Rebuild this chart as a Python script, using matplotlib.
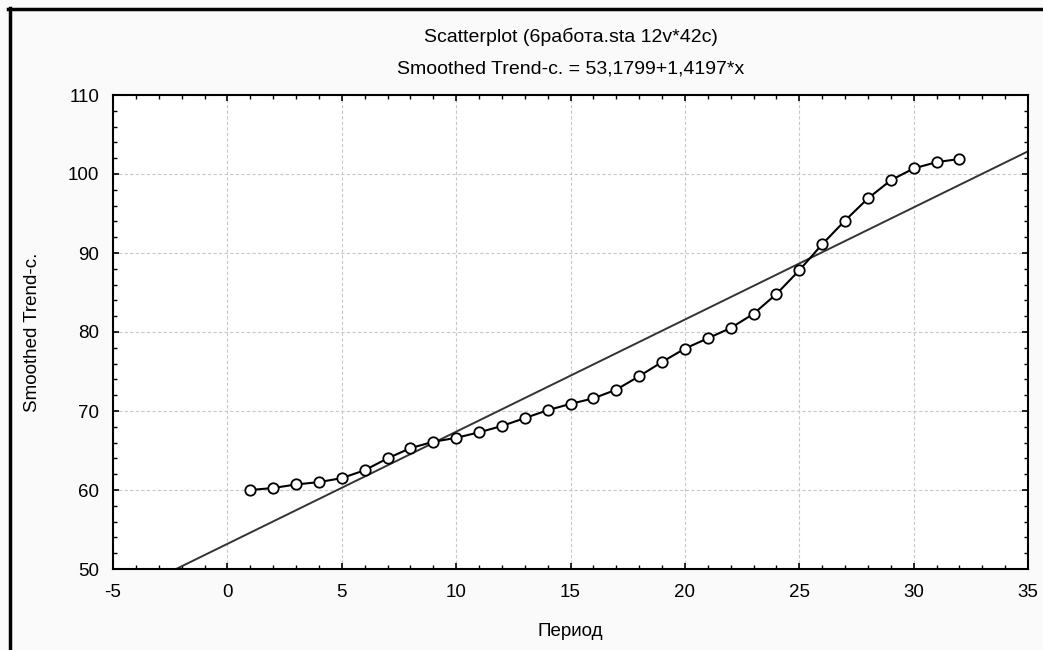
import matplotlib
matplotlib.use("Agg")
import matplotlib.pyplot as plt
from matplotlib.ticker import MultipleLocator
from matplotlib.lines import Line2D
import numpy as np

plt.rcParams['font.family'] = ['Liberation Sans', 'DejaVu Sans']
plt.rcParams['axes.unicode_minus'] = False

# Smoothed trend values by period
period = [1, 2, 3, 4, 5, 6, 7, 8, 9, 10, 11, 12, 13, 14, 15, 16,
          17, 18, 19, 20, 21, 22, 23, 24, 25, 26, 27, 28, 29, 30, 31, 32]
trend = [60.0, 60.25, 60.7, 61.0, 61.5, 62.5, 64.0, 65.3, 66.1, 66.6, 67.3,
         68.1, 69.1, 70.1, 70.9, 71.6, 72.7, 74.4, 76.2, 77.9, 79.2, 80.5,
         82.3, 84.8, 87.8, 91.1, 94.1, 96.9, 99.2, 100.7, 101.5, 101.9]

# Linear fit coefficients
intercept = 53.1799
slope = 1.4197

x_ticks = [-5, 0, 5, 10, 15, 20, 25, 30, 35]
y_ticks = [50, 60, 70, 80, 90, 100, 110]

W, H = 1043, 650
L, R, T, B = 113, 1028, 95, 569
fig = plt.figure(figsize=(W / 100, H / 100), dpi=100, facecolor='#fafafa')
ax = fig.add_axes([L / W, 1 - B / H, (R - L) / W, (B - T) / H])
ax.set_facecolor('white')

xl = np.array([x_ticks[0], x_ticks[-1]], dtype=float)
ax.plot(xl, intercept + slope * xl, color='#333333', lw=1.4, zorder=2)
ax.plot(period, trend, color='black', lw=1.5, marker='o', markersize=7.5,
        markerfacecolor='white', markeredgecolor='black', markeredgewidth=1.3,
        zorder=3)

ax.set_xlim(x_ticks[0], x_ticks[-1])
ax.set_ylim(y_ticks[0], y_ticks[-1])
ax.set_xticks(x_ticks)
ax.set_yticks(y_ticks)
ax.xaxis.set_minor_locator(MultipleLocator(1))
ax.yaxis.set_minor_locator(MultipleLocator(2))
ax.tick_params(which='both', direction='in', top=True, right=True,
               colors='black', labelsize=13.5)
ax.tick_params(which='major', length=4, width=1.2)
ax.tick_params(which='minor', length=3, width=1.0)
ax.tick_params(axis='x', which='major', pad=11)
ax.tick_params(axis='y', which='major', pad=10)
ax.grid(True, which='major', color='#c8c8c8', linestyle=(0, (3, 2)), lw=0.8)
for s in ax.spines.values():
    s.set_linewidth(1.5)
    s.set_color('black')

ax.set_xlabel('Период', fontsize=13.5)
ax.set_ylabel('Smoothed Trend-c.', fontsize=13.5)
ax.xaxis.set_label_coords(0.5, (B - 631) / (B - T))
ax.xaxis.label.set_va('center')
ax.yaxis.set_label_coords((33 - L) / (R - L), 0.5)
ax.yaxis.label.set_va('center')

cx = 0.5 * (L + R) / W
fig.text(cx, 1 - 37 / H, 'Scatterplot (6работа.sta 12v*42c)',
         ha='center', va='center', fontsize=14)
fig.text(cx, 1 - 69 / H, 'Smoothed Trend-c. = 53,1799+1,4197*x',
         ha='center', va='center', fontsize=14)

# Window frame lines on the left and top edges
fig.add_artist(Line2D([9.5 / W, 9.5 / W], [0, 1 - 8 / H], color='black',
                      lw=2.5, transform=fig.transFigure))
fig.add_artist(Line2D([8 / W, 1], [1 - 8.5 / H, 1 - 8.5 / H], color='black',
                      lw=2.5, transform=fig.transFigure))

fig.savefig('out.png', dpi=100, facecolor=fig.get_facecolor())
